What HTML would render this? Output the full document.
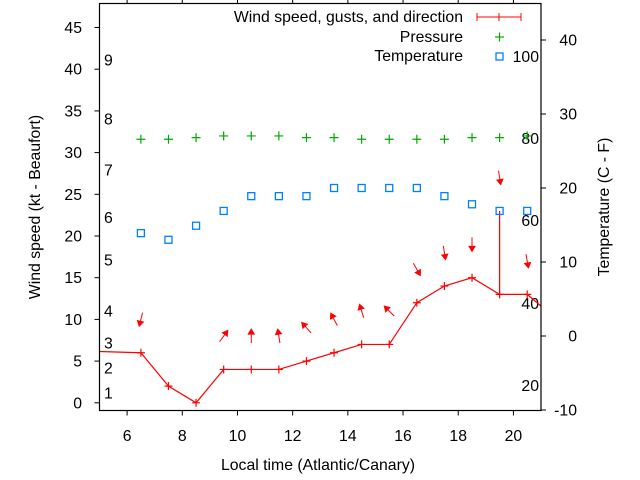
<!DOCTYPE html>
<html><head><meta charset="utf-8"><style>
body{margin:0;background:#fff}
svg{display:block}
text{font-family:"Liberation Sans",sans-serif;font-size:15.8px;fill:#000}
</style></head><body>
<svg id="chart" width="640" height="480" viewBox="0 0 640 480" xmlns="http://www.w3.org/2000/svg">
<rect width="640" height="480" fill="#fff"/>
<g id="grid"></g>
<g id="marks"></g>
<rect x="99.5" y="3.5" width="441.5" height="407" fill="none" stroke="#000" stroke-width="1.2"/>
<text transform="translate(40,207) rotate(-90)" text-anchor="middle">Wind speed (kt - Beaufort)</text>
<text transform="translate(609,207) rotate(-90)" text-anchor="middle">Temperature (C - F)</text>
<text x="318" y="470" text-anchor="middle">Local time (Atlantic/Canary)</text>
<g>
<text x="463" y="22" text-anchor="end">Wind speed, gusts, and direction</text>
<g stroke="red" stroke-width="1">
<line x1="477" y1="17" x2="521" y2="17"/><line x1="477" y1="13" x2="477" y2="21"/><line x1="521" y1="13" x2="521" y2="21"/><line x1="499" y1="13" x2="499" y2="21"/></g>
<text x="463" y="42" text-anchor="end">Pressure</text>
<g stroke="#00aa00" stroke-width="1.2"><line x1="495" y1="37" x2="504" y2="37"/><line x1="499.5" y1="32.5" x2="499.5" y2="41.5"/></g>
<text x="463" y="61" text-anchor="end">Temperature</text>
<rect x="496" y="53" width="7" height="7" fill="none" stroke="#0080ff" stroke-width="1.3"/>
</g>
</svg>
<script>
const hours=[6.5,7.5,8.5,9.5,10.5,11.5,12.5,13.5,14.5,15.5,16.5,17.5,18.5,19.5,20.5];
const windSpeed=[6,2,0,4,4,4,5,6,7,7,12,14,15,13,13];
const windGust=[6,2,0,4,4,4,5,6,7,7,12,14,15,23,13];
const windDir=[194,null,null,36,0,351,318,332,343,315,150,171,180,171,170];
const pressure=[31.6,31.6,31.8,32.0,32.0,32.0,31.8,31.8,31.6,31.6,31.6,31.6,31.8,31.8,32.0];
const temperature=[13.9,13,14.9,16.9,18.9,18.9,18.9,20,20,20,20,18.9,17.8,16.9,16.9];
const edgeHours=[4.5,21.5];
const edgeSpeed=[6.2,10.2];
const xTicks=[6,8,10,12,14,16,18,20];
const yTicks=[0,5,10,15,20,25,30,35,40,45];
const y2Ticks=[-10,0,10,20,30,40];
const beaufortLabels=["1","2","3","4","5","6","7","8","9"];
const beaufortValues=[1.18,4.17,7.17,11.0,17.1,22.2,27.9,34.0,41.1];
const fahrenheitLabels=["20","40","60","80","100"];
const fahrenheitValues=[-6.7,4.4,15.6,26.7,37.8];

const NS="http://www.w3.org/2000/svg";
const L=99.5,R=541,T=3.5,B=410.5;
const X=h=>L+(h-5)/(21-5)*(R-L);
const Y=v=>402.8-v*8.34;
const Y2=t=>336-t*7.4;
const grid=document.getElementById('grid'),marks=document.getElementById('marks');
function mk(tag,attrs,parent){const e=document.createElementNS(NS,tag);for(const k in attrs)e.setAttribute(k,attrs[k]);parent.appendChild(e);return e;}

xTicks.forEach(h=>{
 const t=mk('text',{x:X(h),y:441,'text-anchor':'middle'},grid);t.textContent=h;
 
 
 mk('line',{x1:X(h),x2:X(h),y1:B,y2:B+5,stroke:'#000'},grid);
 mk('line',{x1:X(h),x2:X(h),y1:T,y2:T-5,stroke:'#000'},grid);
});
yTicks.forEach(v=>{
 const t=mk('text',{x:82,y:Y(v)+5.5,'text-anchor':'end'},grid);t.textContent=v;
 
 
 mk('line',{x1:L-5,x2:L,y1:Y(v),y2:Y(v),stroke:'#000'},grid);
});
y2Ticks.forEach(v=>{
 const t=mk('text',{x:577,y:Y2(v)+5.5,'text-anchor':'end'},grid);t.textContent=v;
 
 
 mk('line',{x1:R,x2:R+5,y1:Y2(v),y2:Y2(v),stroke:'#000'},grid);
});
beaufortLabels.forEach((s,i)=>{
 const t=mk('text',{x:104,y:Y(beaufortValues[i])+5.5},grid);t.textContent=s;
 
 
});
fahrenheitLabels.forEach((s,i)=>{
 const t=mk('text',{x:539,y:Y2(fahrenheitValues[i])+5.5,'text-anchor':'end'},grid);t.textContent=s;
 
 
});

const defs=mk('defs',{},marks);const cp=mk('clipPath',{id:'pc'},defs);mk('rect',{x:L,y:T,width:R-L,height:B-T},cp);
const g=mk('g',{'clip-path':'url(#pc)'},marks);

const allH=[edgeHours[0],...hours,edgeHours[1]],allS=[edgeSpeed[0],...windSpeed,edgeSpeed[1]];
const wl=mk('polyline',{points:allH.map((h,i)=>X(h)+','+Y(allS[i])).join(' '),fill:'none',stroke:'red','stroke-width':1.2},g);


hours.forEach((h,i)=>{
 const x=X(h),y=Y(windSpeed[i]);
 const p=mk('path',{d:`M${x-4},${y}H${x+4}M${x},${y-4}V${y+4}`,stroke:'red','stroke-width':1.2},g);
 
 
 if(windGust[i]>windSpeed[i]){
  const gl=mk('line',{x1:x,x2:x,y1:y,y2:Y(windGust[i]),stroke:'red','stroke-width':1.2},g);
  
  
 }
 if(windDir[i]!==null){
  const cy=Y(windGust[i]+4),a=windDir[i]*Math.PI/180,len=14;
  const dx=Math.sin(a)*len/2,dy=-Math.cos(a)*len/2;
  const tx=x-dx,ty=cy-dy,hx=x+dx,hy=cy+dy;
  const ux=dx/(len/2),uy=dy/(len/2);
  const bx=hx-ux*5,by=hy-uy*5;
  const ar=mk('g',{},g);
  
  
  mk('line',{x1:tx,y1:ty,x2:hx,y2:hy,stroke:'red','stroke-width':1},ar);
  mk('polygon',{points:`${hx},${hy} ${bx-uy*3},${by+ux*3} ${bx+uy*3},${by-ux*3}`,fill:'red',stroke:'red','stroke-width':1},ar);
 }
});
hours.forEach((h,i)=>{
 const x=X(h),y=Y(pressure[i]);
 const p=mk('path',{d:`M${x-4.5},${y}H${x+4.5}M${x},${y-4.5}V${y+4.5}`,stroke:'#00aa00','stroke-width':1.2},g);
 
 
});
hours.forEach((h,i)=>{
 const x=X(h),y=Y2(temperature[i]);
 const r=mk('rect',{x:x-3.5,y:y-3.5,width:7,height:7,fill:'none',stroke:'#0080ff','stroke-width':1.3},g);
 
 
});
</script>
</body></html>
